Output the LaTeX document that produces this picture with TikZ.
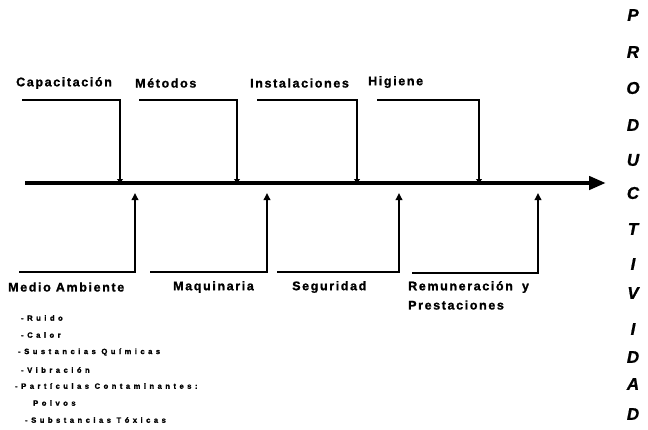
\documentclass[tikz,border=0pt]{standalone}
\usepackage{fontspec}
\setmainfont{Liberation Sans}
\usetikzlibrary{arrows.meta}
\begin{document}
\begin{tikzpicture}[x=1pt,y=-1pt,
  cause/.style={font=\fontsize{12.5}{14}\selectfont\bfseries\addfontfeature{LetterSpace=13,FakeBold=1.2},
                inner sep=0pt, anchor=west},
  item/.style={font=\fontsize{7.6}{9}\selectfont\bfseries\addfontfeature{LetterSpace=46,FakeBold=1.5},
               inner sep=0pt, anchor=west},
  letter/.style={font=\fontsize{17}{19}\selectfont\bfseries\itshape\addfontfeature{FakeBold=1}, inner sep=0pt},
  bone/.style={line width=2.9pt, -{Triangle[length=4pt,width=6pt]}},
  spine/.style={line width=4.6pt, -{Triangle[length=17pt,width=13pt]}},
  feed/.style={line width=2.9pt, -{Triangle[length=7pt,width=6.5pt]}},
]
\useasboundingbox (0,0) rectangle (648,429);

% main axis
\coordinate (s0) at (25,183);
\coordinate (s1) at (606,183);
\draw[spine] (s0) -- (s1);

% upper causes
\foreach \n/\xl/\xr in {a/22/120, b/139/237, c/257/357, d/377/479}{
  \coordinate (t\n) at (\xl,100);
  \coordinate (c\n) at (\xr,100);
  \coordinate (j\n) at (\xr,183);
  \draw[bone] (t\n) -- (c\n) -- (j\n);
}
\node[cause] (capacitacion) at (16,83) {Capacitación};
\node[cause] (metodos) at (135,83) {Métodos};
\node[cause] (instalaciones) at (250,83) {Instalaciones};
\node[cause] (higiene) at (368,82) {Higiene};

% lower causes
\foreach \n/\xl/\xr/\yb in {e/19/135/272, f/150/267/272, g/277/399/272, h/412/538/273}{
  \coordinate (b\n) at (\xl,\yb);
  \coordinate (d\n) at (\xr,\yb);
  \coordinate (u\n) at (\xr,193);
  \draw[feed] (b\n) -- (d\n) -- (u\n);
}
\node[cause] (medio) at (8,287) {Medio Ambiente};
\node[cause] (maquinaria) at (173,287) {Maquinaria};
\node[cause] (seguridad) at (292,287) {Seguridad};
\node[cause] (remuneracion) at (408,287) {Remuneración \hspace{4pt}y};
\node[cause] (prestaciones) at (408,305) {Prestaciones};

% environmental factors
\node[item] (ruido) at (21,318) {-Ruido};
\node[item] (calor) at (21,335) {-Calor};
\node[item] (quimicas) at (18,352) {-Sustancias Químicas};
\node[item] (vibracion) at (21,370) {-Vibración};
\node[item] (particulas) at (15,386) {-Partículas Contaminantes:};
\node[item] (polvos) at (33,403) {Polvos};
\node[item] (toxicas) at (25,420) {-Substancias Tóxicas};

% effect, written vertically
\foreach \l/\y [count=\i] in {P/15,R/52,O/88,D/125,U/160,C/193,T/229,I/264,V/293,I/329,D/357,A/384,D/414}{
  \node[letter] (p\i) at (633,\y) {\l};
}
\end{tikzpicture}
\end{document}
